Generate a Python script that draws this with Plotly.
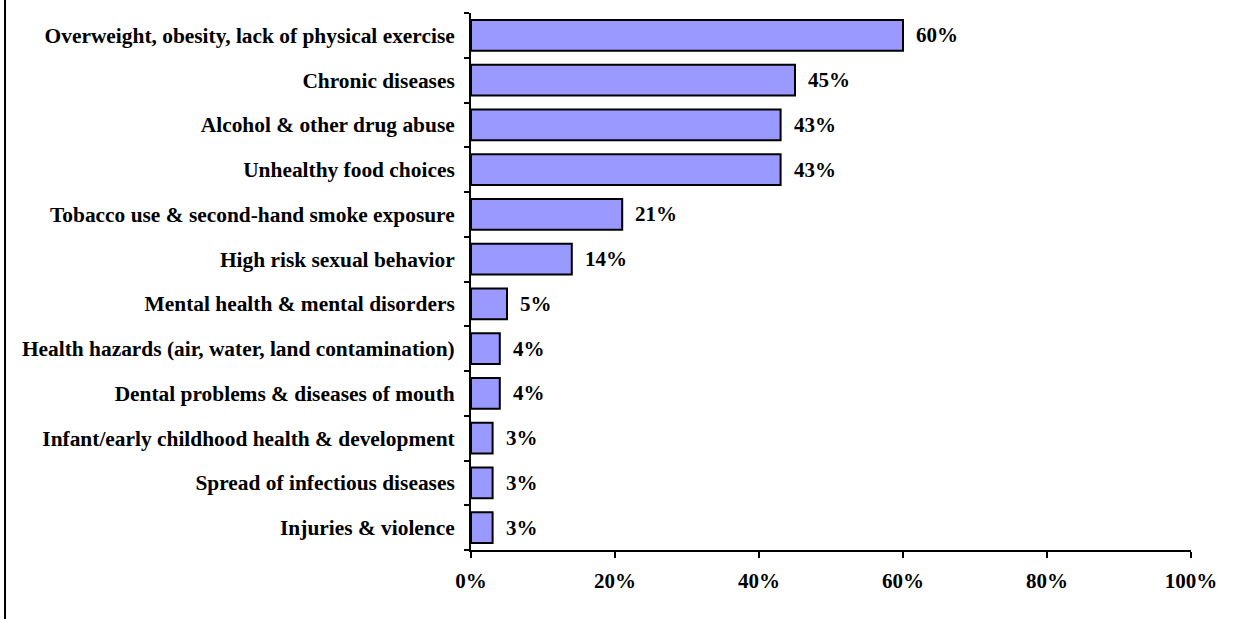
import plotly.graph_objects as go

# Health issues ranked by share of respondents
categories = [
    "Overweight, obesity, lack of physical exercise",
    "Chronic diseases",
    "Alcohol & other drug abuse",
    "Unhealthy food choices",
    "Tobacco use & second-hand smoke exposure",
    "High risk sexual behavior",
    "Mental health & mental disorders",
    "Health hazards (air, water, land contamination)",
    "Dental problems & diseases of mouth",
    "Infant/early childhood health & development",
    "Spread of infectious diseases",
    "Injuries & violence",
]
values = [60, 45, 43, 43, 21, 14, 5, 4, 4, 3, 3, 3]
x_ticks = [0, 20, 40, 60, 80, 100]
x_tick_labels = ["0%", "20%", "40%", "60%", "80%", "100%"]

FONT = "Liberation Serif, Times New Roman, serif"
font = dict(family=FONT, size=21, color="black")
cat_font = dict(family=FONT, size=21.4, color="black")

# Bottom-to-top order for the horizontal bars
cats_r = categories[::-1]
vals_r = values[::-1]

fig = go.Figure(
    go.Bar(
        x=vals_r,
        y=cats_r,
        orientation="h",
        marker=dict(color="#9999FF", line=dict(color="black", width=2)),
        width=0.69,
        hoverinfo="skip",
    )
)

# Value labels just past the end of each bar
for c, v in zip(cats_r, vals_r):
    fig.add_annotation(
        x=v, y=c, text=f"<b>{v}%</b>", showarrow=False,
        xanchor="left", yanchor="middle", xshift=11, yshift=0, font=font,
    )

# Frame line along the left edge of the page
fig.add_shape(
    type="line", xref="paper", yref="paper",
    x0=-0.6472, x1=-0.6472, y0=-0.2, y1=1.1,
    line=dict(color="black", width=2),
)

fig.update_layout(
    width=1249,
    height=619,
    margin=dict(l=471, r=58, t=13, b=69),
    plot_bgcolor="white",
    paper_bgcolor="white",
    showlegend=False,
    font=font,
    bargap=0.31,
)
fig.update_xaxes(
    range=[0, 100],
    tickvals=x_ticks,
    ticktext=[f"<b>{t}</b>" for t in x_tick_labels],
    ticks="outside", ticklen=6, tickwidth=2, tickcolor="black",
    showline=True, linecolor="black", linewidth=2,
    showgrid=False, zeroline=False,
    tickfont=font,
    ticklabelstandoff=5,
)
fig.update_yaxes(
    type="category",
    categoryorder="array",
    categoryarray=cats_r,
    tickvals=cats_r,
    ticktext=[f"<b>{c}</b>" for c in cats_r],
    tickson="boundaries",
    ticks="outside", ticklen=5, tickwidth=2, tickcolor="black",
    showline=True, linecolor="black", linewidth=2,
    showgrid=False, zeroline=False,
    tickfont=cat_font,
    ticklabelstandoff=10,
)

fig.write_html("out.html")
